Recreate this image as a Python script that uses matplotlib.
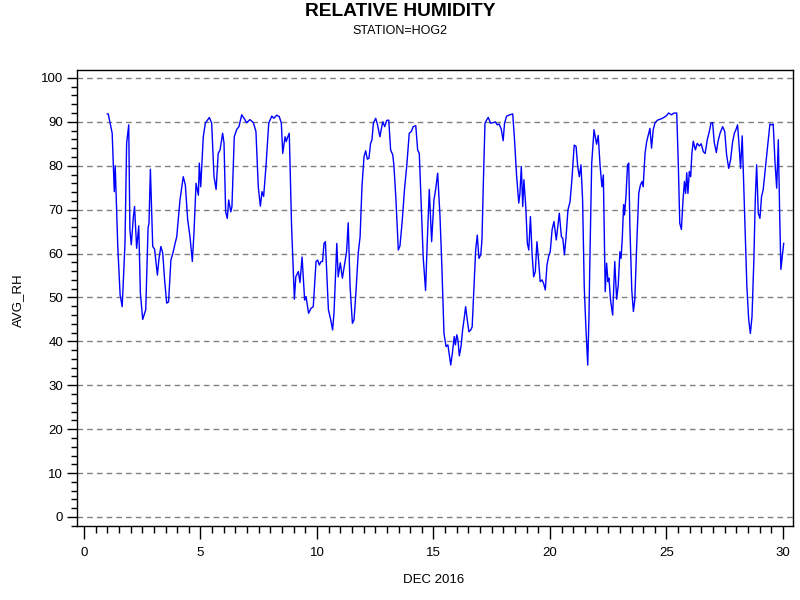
import numpy as np
import matplotlib
matplotlib.use('Agg')
import matplotlib.pyplot as plt
from matplotlib.ticker import MultipleLocator

plt.rcParams['font.family'] = ['Liberation Sans', 'DejaVu Sans']

# hourly-ish readings, day of month
day = [1.00, 1.04, 1.21, 1.30, 1.34, 1.45, 1.55, 1.64, 1.76, 1.83, 1.92, 1.97,
       2.03, 2.12, 2.17, 2.26, 2.35, 2.42, 2.52, 2.65, 2.75, 2.79, 2.85, 2.95,
       3.03, 3.15, 3.22, 3.30, 3.38, 3.46, 3.55, 3.63, 3.73, 3.83, 3.91, 3.98,
       4.12, 4.26, 4.35, 4.45, 4.55, 4.65, 4.72, 4.81, 4.91, 4.95, 5.01, 5.12,
       5.21, 5.38, 5.48, 5.58, 5.67, 5.76, 5.84, 5.95, 6.01, 6.08, 6.15, 6.21,
       6.30, 6.35, 6.45, 6.55, 6.65, 6.77, 6.87, 6.98, 7.12, 7.27, 7.38, 7.48,
       7.57, 7.64, 7.71, 7.81, 7.93, 8.06, 8.15, 8.27, 8.38, 8.47, 8.53, 8.63,
       8.68, 8.74, 8.81, 8.91, 9.03, 9.09, 9.20, 9.27, 9.36, 9.47, 9.53, 9.64,
       9.74, 9.84, 9.96, 10.03, 10.10, 10.18, 10.24, 10.30, 10.36, 10.49, 10.59,
       10.67, 10.73, 10.85, 10.91, 11.00, 11.09, 11.17, 11.27, 11.34, 11.42,
       11.52, 11.59, 11.67, 11.77, 11.85, 11.93, 12.02, 12.09, 12.16, 12.23,
       12.30, 12.36, 12.42, 12.52, 12.60, 12.70, 12.82, 12.91, 12.99, 13.08,
       13.16, 13.25, 13.30, 13.39, 13.49, 13.56, 13.65, 13.76, 13.85, 13.96,
       14.05, 14.13, 14.24, 14.32, 14.39, 14.49, 14.56, 14.66, 14.73, 14.82,
       14.92, 15.02, 15.09, 15.18, 15.28, 15.36, 15.45, 15.54, 15.62, 15.68,
       15.74, 15.81, 15.89, 15.94, 16.00, 16.05, 16.11, 16.18, 16.25, 16.31,
       16.38, 16.45, 16.52, 16.60, 16.66, 16.74, 16.81, 16.88, 16.95, 17.03,
       17.08, 17.14, 17.21, 17.28, 17.35, 17.45, 17.57, 17.65, 17.74, 17.82,
       17.91, 17.99, 18.05, 18.14, 18.28, 18.40, 18.47, 18.57, 18.66, 18.71,
       18.77, 18.83, 18.88, 18.96, 19.03, 19.09, 19.16, 19.23, 19.30, 19.37,
       19.44, 19.51, 19.58, 19.66, 19.73, 19.80, 19.87, 19.94, 20.01, 20.09,
       20.17, 20.27, 20.40, 20.49, 20.55, 20.62, 20.69, 20.77, 20.86, 20.94,
       21.04, 21.12, 21.19, 21.26, 21.33, 21.40, 21.47, 21.54, 21.62, 21.67,
       21.72, 21.79, 21.89, 22.00, 22.07, 22.15, 22.23, 22.29, 22.37, 22.43,
       22.49, 22.53, 22.60, 22.69, 22.78, 22.86, 22.93, 23.00, 23.05, 23.10,
       23.16, 23.20, 23.26, 23.33, 23.38, 23.43, 23.51, 23.58, 23.64, 23.72,
       23.81, 23.88, 23.95, 24.00, 24.08, 24.15, 24.22, 24.29, 24.36, 24.43,
       24.51, 24.62, 24.74, 24.89, 25.00, 25.09, 25.22, 25.32, 25.44, 25.51,
       25.57, 25.64, 25.71, 25.77, 25.82, 25.87, 25.92, 25.98, 26.04, 26.09,
       26.15, 26.24, 26.32, 26.41, 26.49, 26.58, 26.66, 26.75, 26.84, 26.91,
       26.98, 27.05, 27.14, 27.21, 27.30, 27.41, 27.50, 27.58, 27.67, 27.75,
       27.84, 27.92, 27.98, 28.05, 28.11, 28.18, 28.25, 28.33, 28.38, 28.45,
       28.53, 28.60, 28.67, 28.75, 28.81, 28.87, 28.94, 29.01, 29.08, 29.15,
       29.25, 29.34, 29.44, 29.53, 29.58, 29.66, 29.73, 29.80, 29.86, 29.91,
       29.97, 30.03]

avg_rh = [91.8, 91.8, 87.4, 74.1, 80.0, 61.6, 50.6, 47.9, 62.4, 85.1, 89.3, 65.4,
          62.0, 68.4, 70.7, 61.2, 66.3, 51.0, 45.0, 47.2, 65.8, 66.9, 79.2, 61.6,
          61.0, 55.1, 58.9, 61.6, 60.1, 54.0, 48.7, 49.0, 58.5, 60.4, 62.3, 63.8,
          72.2, 77.5, 75.6, 67.7, 63.8, 58.2, 64.7, 76.0, 73.3, 80.6, 75.2, 86.6,
          89.7, 91.0, 89.7, 77.5, 74.6, 82.8, 83.6, 87.4, 85.1, 69.5, 68.0, 72.2,
          69.5, 70.7, 86.6, 88.2, 88.9, 91.6, 90.8, 89.8, 90.5, 89.8, 87.8, 75.2,
          70.8, 74.1, 73.0, 79.8, 89.7, 91.3, 90.8, 91.5, 91.2, 89.7, 82.8, 86.6,
          85.5, 86.5, 87.4, 66.1, 49.6, 54.7, 55.9, 53.4, 59.2, 49.4, 50.2, 46.4,
          47.5, 47.9, 58.2, 58.5, 57.4, 58.2, 58.2, 62.3, 62.7, 47.2, 44.9,
          42.6, 46.4, 62.3, 54.7, 57.9, 54.4, 57.0, 60.4, 67.0, 52.5,
          44.1, 44.9, 51.0, 60.1, 63.8, 75.2, 82.1, 83.4, 81.5, 81.7,
          85.1, 85.9, 89.7, 90.8, 89.3, 86.6, 90.0, 88.9, 90.3, 90.4,
          83.6, 82.5, 80.2, 72.2, 60.8, 61.7, 66.9, 74.9, 79.8, 87.4,
          87.8, 88.9, 89.1, 83.6, 82.8, 68.5, 59.0, 51.6, 62.3, 74.6,
          62.7, 72.2, 74.5, 78.3, 68.4, 57.0, 41.8, 38.8, 39.2, 36.9,
          34.6, 37.3, 41.1, 39.2, 41.5, 40.3, 36.7, 38.8, 42.6, 44.9,
          47.9, 44.9, 42.2, 42.6, 43.3, 52.5, 60.8, 64.2, 58.9, 59.7,
          63.1, 76.0, 89.7, 90.4, 91.0, 89.7, 89.8, 90.0, 89.3, 89.5,
          88.3, 85.7, 89.7, 91.3, 91.6, 91.8, 86.6, 77.5, 71.5, 73.7,
          79.8, 70.7, 76.8, 70.7, 62.3, 60.8, 68.4, 60.1, 54.7, 55.9,
          62.7, 58.5, 53.6, 54.0, 53.1, 51.7, 57.4, 59.3, 60.4, 65.4,
          67.3, 63.1, 69.2, 63.8, 63.5, 59.7, 63.8, 69.9, 71.8, 76.8,
          84.7, 84.4, 79.8, 77.5, 80.2, 72.2, 52.5, 43.3, 34.6, 44.9,
          60.8, 80.5, 88.2, 84.9, 86.9, 80.0, 75.2, 77.9, 51.3, 57.8,
          53.6, 54.4, 49.4, 46.0, 58.2, 49.6, 52.8, 60.4, 58.9, 63.1,
          71.1, 68.8, 73.0, 80.2, 80.6, 66.1, 51.7, 46.8, 49.4, 61.6,
          73.7, 75.6, 76.4, 75.2, 82.8, 85.5, 87.0, 88.5, 84.0, 88.2,
          89.8, 90.4, 90.6, 91.0, 91.4, 92.0, 91.6, 92.0, 92.0, 79.8,
          66.9, 65.5, 72.2, 76.4, 73.7, 78.4, 73.7, 78.7, 77.5, 82.8,
          85.6, 83.6, 85.1, 84.5, 85.0, 83.2, 82.8, 85.9, 87.8, 89.7,
          89.8, 85.3, 83.0, 85.5, 87.4, 88.9, 87.8, 82.5, 79.4, 81.3,
          85.5, 87.5, 88.2, 89.3, 85.1, 79.4, 86.8, 73.0, 64.6, 52.5,
          44.9, 41.8, 45.6, 58.5, 72.2, 80.2, 69.2, 68.0, 73.0, 74.5,
          79.8, 84.4, 89.5, 89.3, 89.5, 80.6, 74.9, 85.9, 68.4, 56.4,
          59.3, 62.3]

fig = plt.figure(figsize=(8, 6), dpi=100)
ax = fig.add_axes([77/800, 1 - 526/600, (793 - 77)/800, (526 - 70)/600])

for y in range(0, 101, 10):
    ax.axhline(y, color='#808080', linestyle=(0, (4, 3)), linewidth=1, zorder=1)

ax.plot(day, avg_rh, color='#0000ff', linewidth=1, zorder=2)

ax.set_xlim(-0.3, 30.43)
ax.set_ylim(-2.05, 101.8)
ax.xaxis.set_major_locator(MultipleLocator(5))
ax.xaxis.set_minor_locator(MultipleLocator(0.5))
ax.yaxis.set_major_locator(MultipleLocator(10))
ax.yaxis.set_minor_locator(MultipleLocator(2))
ax.tick_params(axis='x', which='major', length=9, width=1, labelsize=9.5, pad=6)
ax.tick_params(axis='x', which='minor', length=5, width=1)
ax.tick_params(axis='y', which='major', length=7, width=1, labelsize=9.5, pad=3)
ax.tick_params(axis='y', which='minor', length=4, width=1)
for sp in ax.spines.values():
    sp.set_linewidth(1)

fig.text(0.5, 1 - 11.5/600, 'RELATIVE HUMIDITY', ha='center', va='center',
         fontsize=13.8, fontweight='bold')
fig.text(0.5, 1 - 31/600, 'STATION=HOG2', ha='center', va='center', fontsize=9)
fig.text(18/800, 1 - 300/600, 'AVG_RH', ha='center', va='center',
         rotation=90, fontsize=9.5)
fig.text(434/800, 1 - 580/600, 'DEC 2016', ha='center', va='center', fontsize=9.5)

fig.savefig('out.png', dpi=100)
